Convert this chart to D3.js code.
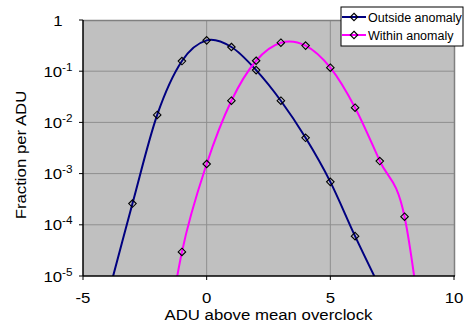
<!DOCTYPE html>
<html>
<head>
<meta charset="utf-8">
<script src="https://cdn.jsdelivr.net/npm/d3@7"></script>
<style>
  html, body { margin: 0; padding: 0; background: #ffffff; }
  svg { display: block; font-family: Arial, "Liberation Sans", sans-serif; }
</style>
</head>
<body>
<svg id="chart" width="464" height="326"></svg>
<script>
// ---- Data ----
const xValues = [-4, -3, -2, -1, 0, 1, 2, 3, 4, 5, 6, 7];
const outsideValues = [4e-6, 2.6e-4, 0.014, 0.158, 0.40, 0.297, 0.105, 0.0265, 0.005, 6.9e-4, 6.0e-5, 6e-6];

const xWithin = [-2, -1, 0, 1, 2, 3, 4, 5, 6, 7, 8, 9];
const withinValues = [4e-8, 2.95e-5, 1.54e-3, 0.0265, 0.16, 0.36, 0.316, 0.117, 0.0194, 1.76e-3, 1.44e-4, 4.5e-8];

const seriesNames = ["Outside anomaly", "Within anomaly"];
const seriesColors = ["#000080", "#ff00ff"];

const xTicks = [-5, 0, 5, 10];
const yTickExps = [0, -1, -2, -3, -4, -5];

// ---- Layout ----
const svg = d3.select("#chart");
const plot = { left: 83, top: 20, right: 454, bottom: 276 };
const stretch = 1.12; // glyphs in the reference are wider than Arial

const x = d3.scaleLinear().domain([-5, 10]).range([plot.left, plot.right]);
const y = d3.scaleLog().domain([1e-5, 1]).range([plot.bottom, plot.top]);

// plot background
svg.append("rect")
  .attr("x", plot.left).attr("y", plot.top)
  .attr("width", plot.right - plot.left).attr("height", plot.bottom - plot.top)
  .attr("fill", "#c0c0c0");

// grid lines
const grid = svg.append("g");
yTickExps.filter(e => e < 0 && e > -5).forEach(e => {
  grid.append("line")
    .attr("x1", plot.left).attr("x2", plot.right)
    .attr("y1", y(Math.pow(10, e))).attr("y2", y(Math.pow(10, e)))
    .attr("stroke", "#8f8f8f").attr("stroke-width", 1);
});
xTicks.filter(t => t > -5 && t < 10).forEach(t => {
  grid.append("line")
    .attr("x1", x(t)).attr("x2", x(t))
    .attr("y1", plot.top).attr("y2", plot.bottom)
    .attr("stroke", "#8f8f8f").attr("stroke-width", 1);
});

// plot border (top / right)
svg.append("path")
  .attr("d", `M${plot.left},${plot.top + 0.5}H${plot.right + 0.5}V${plot.bottom}`)
  .attr("fill", "none").attr("stroke", "#808080").attr("stroke-width", 1.5);

// clip
svg.append("defs").append("clipPath").attr("id", "clip")
  .append("rect")
  .attr("x", plot.left).attr("y", plot.top)
  .attr("width", plot.right - plot.left).attr("height", plot.bottom - plot.top);

const line = d3.line()
  .x(d => x(d[0]))
  .y(d => y(d[1]))
  .curve(d3.curveCardinal.tension(0));

const seriesData = [
  xValues.map((v, i) => [v, outsideValues[i]]),
  xWithin.map((v, i) => [v, withinValues[i]])
];

const diamond = d3.symbol().type(d3.symbolDiamond2).size(36);

const marks = svg.append("g").attr("clip-path", "url(#clip)");
seriesData.forEach((data, si) => {
  marks.append("path")
    .datum(data)
    .attr("d", line)
    .attr("fill", "none")
    .attr("stroke", seriesColors[si])
    .attr("stroke-width", 2);
});
seriesData.forEach((data, si) => {
  marks.selectAll(null)
    .data(data.filter(d => d[1] >= 1e-5))
    .enter().append("path")
    .attr("d", diamond)
    .attr("transform", d => `translate(${x(d[0])},${y(d[1])})`)
    .attr("fill", "none")
    .attr("stroke", "#000")
    .attr("stroke-width", 1.1);
});

// axes lines
svg.append("line")
  .attr("x1", plot.left).attr("x2", plot.left)
  .attr("y1", plot.top).attr("y2", plot.bottom)
  .attr("stroke", "#000").attr("stroke-width", 1.5);
svg.append("line")
  .attr("x1", plot.left).attr("x2", plot.right + 1)
  .attr("y1", plot.bottom).attr("y2", plot.bottom)
  .attr("stroke", "#000").attr("stroke-width", 1.5);

function label(px, py, rot) {
  return svg.append("text")
    .attr("transform", `translate(${px},${py})` + (rot ? ` rotate(${rot})` : "") + ` scale(${stretch},1)`)
    .attr("text-anchor", "middle")
    .attr("font-size", 15)
    .attr("fill", "#000");
}

// y ticks + labels
yTickExps.forEach(e => {
  const yy = y(Math.pow(10, e));
  svg.append("line")
    .attr("x1", plot.left - 4).attr("x2", plot.left)
    .attr("y1", yy).attr("y2", yy)
    .attr("stroke", "#000").attr("stroke-width", 1);
  const t = label(58, yy + 5.5);
  if (e === 0) {
    t.text("1");
  } else {
    t.append("tspan").text("10");
    t.append("tspan").attr("dy", -6).attr("font-size", 10.5).text(String(e));
  }
});

// x ticks + labels
xTicks.forEach(v => {
  svg.append("line")
    .attr("x1", x(v)).attr("x2", x(v))
    .attr("y1", plot.bottom).attr("y2", plot.bottom + 4)
    .attr("stroke", "#000").attr("stroke-width", 1);
  label(x(v), 303).text(v);
});

// axis titles
label((plot.left + plot.right) / 2, 320).text("ADU above mean overclock");
label(25.5, 155, -90).text("Fraction per ADU");

// legend
const lg = svg.append("g");
lg.append("rect")
  .attr("x", 341).attr("y", 7).attr("width", 122).attr("height", 39)
  .attr("fill", "#fff").attr("stroke", "#000").attr("stroke-width", 1);
seriesNames.forEach((name, i) => {
  const ly = 17 + i * 18;
  lg.append("line")
    .attr("x1", 342).attr("x2", 366).attr("y1", ly).attr("y2", ly)
    .attr("stroke", seriesColors[i]).attr("stroke-width", 2);
  lg.append("path")
    .attr("d", diamond)
    .attr("transform", `translate(354,${ly})`)
    .attr("fill", "none").attr("stroke", "#000").attr("stroke-width", 1.1);
  lg.append("text")
    .attr("x", 368).attr("y", ly + 4.5)
    .attr("font-size", 12.5).attr("fill", "#000")
    .text(name);
});
</script>
</body>
</html>
